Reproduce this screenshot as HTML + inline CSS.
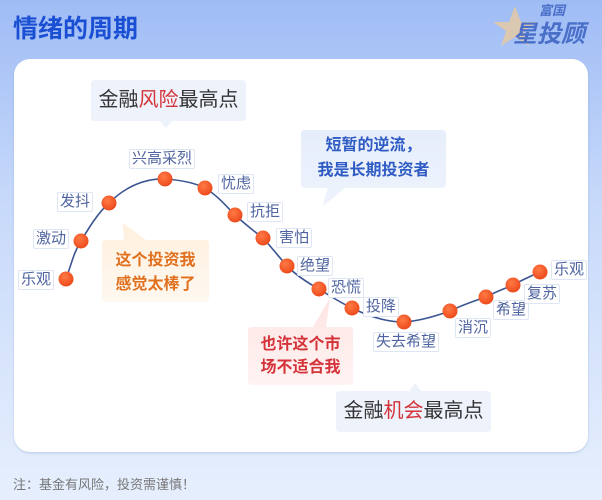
<!DOCTYPE html>
<html><head><meta charset="utf-8"><style>
html,body{margin:0;padding:0;width:602px;height:500px;overflow:hidden}
body{background:linear-gradient(180deg,#9fbcf5 0%,#c7d9fa 40%,#e6effd 100%);font-family:"Liberation Sans","Noto Sans CJK SC",sans-serif;position:relative}
.t{position:absolute;left:13px;top:9px;font-size:25px;font-weight:bold;color:#1a4fd4;letter-spacing:0px}
.card{position:absolute;left:14px;top:59px;width:574px;height:393px;background:#fff;border-radius:16px;box-shadow:0 1px 2px rgba(120,150,200,.4)}
.l{position:absolute;font-size:15px;color:#4f64a0;background:#fff;border:1px solid #dfe6f3;border-radius:2px;line-height:18px;padding:0 2px;white-space:nowrap}
.b{position:absolute;text-align:center;white-space:nowrap}
.foot{position:absolute;left:13px;top:474px;font-size:13px;color:#777}
</style></head><body>
<div class="t">情绪的周期</div>
<div style="position:absolute;left:493px;top:0;width:95px;height:48px;">
<svg width="95" height="48"><polygon points="22,6 28,22 44,22 31,31 36,46 22,37 8,46 13,31 0,22 16,22" fill="#e8c9a0" opacity=".8"/></svg>
<div style="position:absolute;left:46px;top:0;font-size:13px;font-weight:bold;color:#4a6fc8;font-style:italic">富国</div>
<div style="position:absolute;left:20px;top:14px;font-size:24px;font-weight:bold;color:#4a6fc8;font-style:italic">星投顾</div>
</div>
<div class="card"></div>
<svg style="position:absolute;left:0;top:0" width="602" height="500">
<defs>
<radialGradient id="g" cx="40%" cy="35%" r="65%"><stop offset="0" stop-color="#ff7a45"/><stop offset="1" stop-color="#ec4a1c"/></radialGradient>
<linearGradient id="og" x1="0" y1="0" x2="0" y2="1"><stop offset="0" stop-color="#fff0de"/><stop offset="1" stop-color="#fff8f0"/></linearGradient>
<linearGradient id="rg" x1="0" y1="0" x2="0" y2="1"><stop offset="0" stop-color="#fde4e2"/><stop offset="1" stop-color="#fff4f3"/></linearGradient>
<linearGradient id="bg" x1="0" y1="0" x2="0" y2="1"><stop offset="0" stop-color="#e6eefb"/><stop offset="1" stop-color="#eef3fc"/></linearGradient>
</defs>
<path d="M95,80 H242 Q246,80 246,84 V117 Q246,121 242,121 H172 L166,128 L160,121 H95 Q91,121 91,117 V84 Q91,80 95,80Z" fill="#edf2fb"/>
<path d="M305,130 H442 Q446,130 446,134 V184 Q446,188 442,188 H345 L322,207 L328,188 H305 Q301,188 301,184 V134 Q301,130 305,130Z" fill="url(#bg)"/>
<path d="M106,240 H124 L123,223 L146,240 H205 Q209,240 209,244 V298 Q209,302 205,302 H106 Q102,302 102,298 V244 Q102,240 106,240Z" fill="url(#og)"/>
<path d="M252,327 H313 L330,298 L326,327 H349 Q353,327 353,331 V381 Q353,385 349,385 H252 Q248,385 248,381 V331 Q248,327 252,327Z" fill="url(#rg)"/>
<path d="M340,391 H409 L415,383 L421,391 H487 Q491,391 491,395 V428 Q491,432 487,432 H340 Q336,432 336,428 V395 Q336,391 340,391Z" fill="#edf2fb"/>
<path d="M66,279 C72,262 74,252 81,241 C90,226 98,213 109,203 C125,187 145,178 165,179 C180,180 195,183 205,188 C218,196 226,206 235,215 C245,224 255,232 263,238 C272,248 280,258 287,266 C297,276 308,283 319,289 C330,296 341,303 352,308 C368,316 385,322 404,322 C420,321 436,316 450,311 C462,305 474,301 486,297 C495,292 504,289 513,285 C522,280 531,276 540,272" fill="none" stroke="#3b5592" stroke-width="1.6"/>
<g fill="url(#g)">
<circle cx="66" cy="279" r="7.5"/><circle cx="81" cy="241" r="7.5"/><circle cx="109" cy="203" r="7.5"/><circle cx="165" cy="179" r="7.5"/><circle cx="205" cy="188" r="7.5"/><circle cx="235" cy="215" r="7.5"/><circle cx="263" cy="238" r="7.5"/><circle cx="287" cy="266" r="7.5"/><circle cx="319" cy="289" r="7.5"/><circle cx="352" cy="308" r="7.5"/><circle cx="404" cy="322" r="7.5"/><circle cx="450" cy="311" r="7.5"/><circle cx="486" cy="297" r="7.5"/><circle cx="513" cy="285" r="7.5"/><circle cx="540" cy="272" r="7.5"/>
</g>
</svg>
<div class="b" style="left:91px;top:87px;width:155px;font-size:20px;color:#333;line-height:26px">金融<span style="color:#d5333a">风险</span>最高点</div>
<div class="b" style="left:301px;top:133px;width:145px;font-size:16px;font-weight:bold;color:#2f5bc4;line-height:25px">短暂的逆流，<br>我是长期投资者</div>
<div class="b" style="left:102px;top:249px;width:107px;font-size:16px;font-weight:bold;color:#e0701e;line-height:24px">这个投资我<br>感觉太棒了</div>
<div class="b" style="left:248px;top:333px;width:105px;font-size:16px;font-weight:bold;color:#d5333a;line-height:23px">也许这个市<br>场不适合我</div>
<div class="b" style="left:336px;top:398px;width:155px;font-size:20px;color:#333;line-height:26px">金融<span style="color:#d5333a">机会</span>最高点</div>
<div class="l" style="left:18px;top:270px">乐观</div>
<div class="l" style="left:33px;top:229px">激动</div>
<div class="l" style="left:57px;top:192px">发抖</div>
<div class="l" style="left:129px;top:149px">兴高采烈</div>
<div class="l" style="left:218px;top:174px">忧虑</div>
<div class="l" style="left:247px;top:202px">抗拒</div>
<div class="l" style="left:276px;top:228px">害怕</div>
<div class="l" style="left:297px;top:256px">绝望</div>
<div class="l" style="left:328px;top:278px">恐慌</div>
<div class="l" style="left:363px;top:297px">投降</div>
<div class="l" style="left:373px;top:332px">失去希望</div>
<div class="l" style="left:455px;top:318px">消沉</div>
<div class="l" style="left:493px;top:300px">希望</div>
<div class="l" style="left:524px;top:284px">复苏</div>
<div class="l" style="left:551px;top:260px">乐观</div>
<div class="foot">注：基金有风险，投资需谨慎！</div>
</body></html>
